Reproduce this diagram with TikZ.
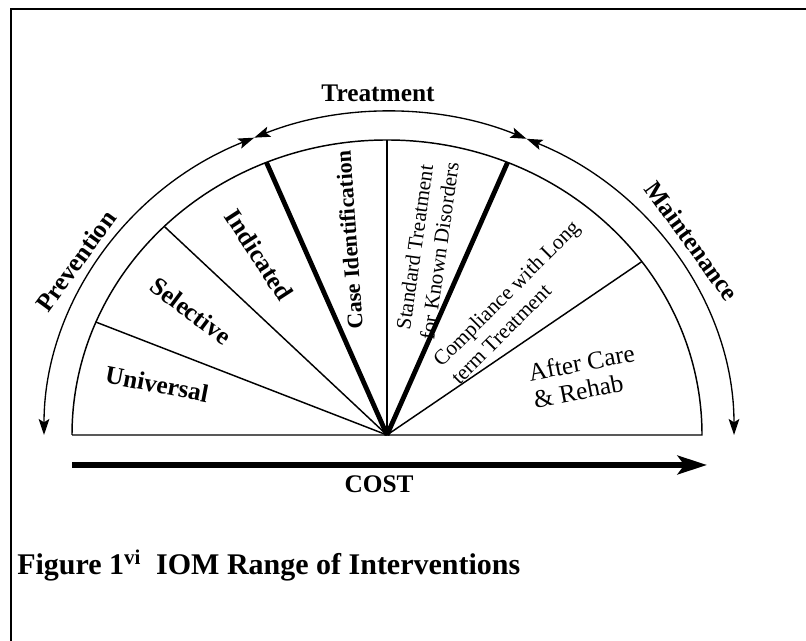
\documentclass[tikz,border=0pt]{standalone}
\usepackage{fontspec}
\setmainfont{Liberation Serif}
\usetikzlibrary{arrows.meta}
\begin{document}
\begin{tikzpicture}[x=0.75pt,y=0.75pt,
  boldlbl/.style={inner sep=0pt, font=\bfseries\fontsize{19}{22}\selectfont},
  reglbl/.style={inner sep=0pt, font=\fontsize{15.5}{18.8}\selectfont},
  thinline/.style={line width=1.1pt},
  thickline/.style={line width=3.6pt},
  arcline/.style={line width=1pt, {Stealth[length=12pt,width=8pt,inset=2.5pt]}-{Stealth[length=12pt,width=8pt,inset=2.5pt]}},
  costarrow/.style={line width=4pt, -{Stealth[length=22pt,width=14pt,inset=5pt]}}]
\useasboundingbox (0,0) rectangle (806,641);
% frame
\draw[line width=1.5pt] (11,0) -- (11,632) -- (806,632);
% half disk
\coordinate (C) at (387,206);
\coordinate (L) at (72,206);
\coordinate (R) at (702,206);
\draw[thinline] (L) arc[start angle=180,end angle=0,x radius=315,y radius=295] -- (L);
% spokes
\foreach \n/\a in {s1/157.5,s2/135,s3/112.5,s4/90,s5/67.5,s6/36}
  \coordinate (\n) at ({387+315*cos(\a)},{206+295*sin(\a)});
\draw[thinline] (C) -- (s1);
\draw[thinline] (C) -- (s2);
\draw[thickline] (C) -- (s3);
\draw[thinline] (C) -- (s4);
\draw[thickline] (C) -- (s5);
\draw[thinline] (C) -- (s6);
% outer arcs
\coordinate (jL) at ({389+345*cos(113)},{206+323*sin(113)});
\coordinate (jR) at ({389+345*cos(66.5)},{206+323*sin(66.5)});
\draw[arcline] (jL) arc[start angle=113,end angle=180,x radius=345,y radius=323];
\draw[arcline] (jR) arc[start angle=66.5,end angle=113,x radius=345,y radius=323];
\draw[arcline] (jR) arc[start angle=66.5,end angle=0,x radius=345,y radius=323];
% arc labels
\node[boldlbl] (treat) at (378,548) {Treatment};
\node[boldlbl, rotate=54] (prev) at (76,380) {Prevention};
\node[boldlbl, rotate=-54] (maint) at (692,400) {Maintenance};
% sector labels
\node[boldlbl, rotate=-11] (univ) at (157,257) {Universal};
\node[boldlbl, rotate=-37] (sel) at (191,330) {Selective};
\node[boldlbl, rotate=-57] (ind) at (259,386) {Indicated};
\node[boldlbl, rotate=94, font=\bfseries\fontsize{16.6}{19}\selectfont] (case) at (349,401) {Case Identification};
\node[reglbl, rotate=82, align=center, font=\fontsize{15.8}{18.8}\selectfont] (std) at (427,392) {Standard Treatment\\for Known Disorders};
\node[reglbl, rotate=45, align=left, font=\fontsize{16}{19}\selectfont] (comp) at (515,339) {Compliance with Long\\term Treatment};
\node[reglbl, rotate=11, align=left, font=\fontsize{19}{20.5}\selectfont] (after) at (584,265) {After Care\\\& Rehab};
% cost
\coordinate (c0) at (72,176);
\coordinate (c1) at (707,176);
\draw[costarrow] (c0) -- (c1);
\node[boldlbl] (cost) at (379,157) {COST};
% caption
\node[anchor=base west, inner sep=0pt, font=\bfseries\fontsize{22.5}{26}\selectfont] (cap) at (17,66) {Figure 1\textsuperscript{vi}\ \ IOM Range of Interventions};
\end{tikzpicture}
\end{document}
